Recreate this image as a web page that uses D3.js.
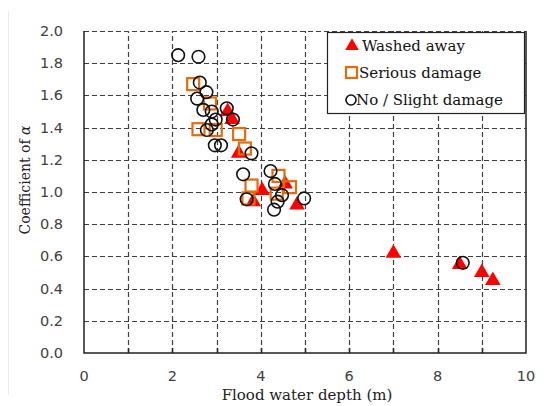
<!DOCTYPE html>
<html lang="en">
<head>
  <meta charset="UTF-8">
  <title>Coefficient of alpha vs flood water depth</title>
  <script src="https://d3js.org/d3.v7.min.js"></script>
  <style>
    body {
      margin: 0;
      background-color: #ffffff;
    }
    svg {
      display: block;
    }
    .tick-label {
      font-family: "DejaVu Sans", Arial, sans-serif;
      font-size: 14.5px;
      fill: #404040;
    }
    .title {
      font-family: "DejaVu Serif", "Times New Roman", serif;
      font-size: 15px;
      fill: #222;
    }
    .legend-text {
      font-family: "DejaVu Serif", "Times New Roman", serif;
      font-size: 15px;
      fill: #111;
    }
  </style>
</head>
<body>
  <div id="chart"></div>

  <script>
    // Series: [depth (m), coefficient]
    const washedAway = [
      [3.25, 1.50], [3.35, 1.45], [3.50, 1.24], [3.83, 0.94], [4.03, 1.01],
      [4.55, 1.05], [4.82, 0.92], [7.00, 0.62], [8.50, 0.55], [9.00, 0.50], [9.25, 0.45]
    ];
    const seriousDamage = [
      [2.47, 1.67], [2.85, 1.55], [2.59, 1.39], [2.98, 1.385], [3.51, 1.36],
      [3.64, 1.27], [3.72, 0.96], [3.79, 1.04], [4.36, 0.99], [4.40, 1.10], [4.66, 1.03]
    ];
    const slightDamage = [
      [2.13, 1.85], [2.59, 1.84], [2.62, 1.68], [2.77, 1.62], [2.56, 1.58],
      [2.70, 1.51], [2.89, 1.50], [3.23, 1.52], [3.37, 1.45], [2.98, 1.45],
      [2.89, 1.42], [2.78, 1.385], [2.96, 1.29], [3.10, 1.29], [3.79, 1.24],
      [3.60, 1.11], [4.22, 1.13], [4.32, 1.05], [3.68, 0.955], [4.48, 0.98],
      [4.38, 0.94], [4.30, 0.89], [4.98, 0.96], [8.57, 0.56]
    ];
    const xTicks = [0, 2, 4, 6, 8, 10];
    const xGrid = [1, 2, 3, 4, 5, 6, 7, 8, 9];
    const yTicks = [0, 0.2, 0.4, 0.6, 0.8, 1.0, 1.2, 1.4, 1.6, 1.8, 2.0];
    const legendLabels = ['Washed away', 'Serious damage', 'No / Slight damage'];

    const width = 547, height = 406;
    const margin = { top: 31, right: 21, bottom: 53, left: 84 };

    const svg = d3.select('#chart')
      .append('svg')
      .attr('width', width)
      .attr('height', height);

    // faint frame line on the left of the original image
    svg.append('line')
      .attr('x1', 8.5).attr('x2', 8.5)
      .attr('y1', 11).attr('y2', 395)
      .attr('stroke', '#ececec');

    const x = d3.scaleLinear().domain([0, 10]).range([margin.left, width - margin.right]);
    const y = d3.scaleLinear().domain([0, 2]).range([height - margin.bottom, margin.top]);

    const grid = svg.append('g')
      .attr('stroke', '#404040')
      .attr('stroke-width', 1.2)
      .attr('stroke-dasharray', '5,3');

    // horizontal dashed grid
    grid.selectAll('line.h')
      .data(yTicks.filter(d => d > 0))
      .enter()
      .append('line')
      .attr('class', 'h')
      .attr('x1', x(0)).attr('x2', x(10))
      .attr('y1', d => Math.round(y(d)) + 0.5)
      .attr('y2', d => Math.round(y(d)) + 0.5);

    // vertical dashed grid
    grid.selectAll('line.v')
      .data(xGrid)
      .enter()
      .append('line')
      .attr('class', 'v')
      .attr('x1', d => Math.round(x(d)) + 0.5)
      .attr('x2', d => Math.round(x(d)) + 0.5)
      .attr('y1', y(0)).attr('y2', y(2));

    // axes (left, bottom, right solid)
    const frame = svg.append('g').attr('stroke', '#222').attr('stroke-width', 1.5).attr('fill', 'none');
    frame.append('path')
      .attr('d', `M${x(0)},${y(2)} V${y(0)} H${x(10)} V${y(2)}`);

    // inward minor ticks on bottom axis
    frame.selectAll('line.t')
      .data(xGrid)
      .enter()
      .append('line')
      .attr('x1', d => Math.round(x(d)) + 0.5)
      .attr('x2', d => Math.round(x(d)) + 0.5)
      .attr('y1', y(0)).attr('y2', y(0) - 5);

    // tick labels
    svg.selectAll('text.xl')
      .data(xTicks)
      .enter()
      .append('text')
      .attr('class', 'tick-label')
      .attr('x', d => x(d))
      .attr('y', y(0) + 28)
      .attr('text-anchor', 'middle')
      .text(d => d);

    svg.selectAll('text.yl')
      .data(yTicks)
      .enter()
      .append('text')
      .attr('class', 'tick-label')
      .attr('x', 63)
      .attr('y', d => y(d) + 5)
      .attr('text-anchor', 'end')
      .text(d => d3.format('.1f')(d));

    // axis titles
    svg.append('text')
      .attr('class', 'title')
      .attr('x', 307)
      .attr('y', 400)
      .attr('text-anchor', 'middle')
      .text('Flood water depth (m)');

    const yTitle = svg.append('text')
      .attr('class', 'title')
      .style('font-size', '14px')
      .attr('transform', 'translate(30, 180) rotate(-90)')
      .attr('text-anchor', 'middle');
    yTitle.append('tspan').text('Coefficient of ');
    yTitle.append('tspan').attr('font-style', 'italic').text('α');

    const tri = d3.symbol().type(d3.symbolTriangle).size(105);
    const red = '#ff0000', orange = '#e46c0a';

    // markers
    svg.append('g')
      .selectAll('path')
      .data(washedAway)
      .enter()
      .append('path')
      .attr('d', tri)
      .attr('transform', d => `translate(${x(d[0])},${y(d[1])})`)
      .attr('fill', red);

    svg.append('g')
      .selectAll('rect')
      .data(seriousDamage)
      .enter()
      .append('rect')
      .attr('x', d => x(d[0]) - 6)
      .attr('y', d => y(d[1]) - 6)
      .attr('width', 12).attr('height', 12)
      .attr('fill', 'none')
      .attr('stroke', orange)
      .attr('stroke-width', 2.2);

    svg.append('g')
      .selectAll('circle')
      .data(slightDamage)
      .enter()
      .append('circle')
      .attr('cx', d => x(d[0]))
      .attr('cy', d => y(d[1]))
      .attr('r', 6.3)
      .attr('fill', 'none')
      .attr('stroke', '#111')
      .attr('stroke-width', 1.6);

    // legend
    const legend = svg.append('g');
    legend.append('rect')
      .attr('x', 327.5).attr('y', 32.5)
      .attr('width', 197).attr('height', 81)
      .attr('fill', '#ffffff')
      .attr('stroke', '#222')
      .attr('stroke-width', 1.2);

    const rowY = [46, 73, 100];
    const textX = [362, 359, 356];
    legend.append('path')
      .attr('d', d3.symbol().type(d3.symbolTriangle).size(80))
      .attr('transform', `translate(352, ${rowY[0]})`)
      .attr('fill', red);
    legend.append('rect')
      .attr('x', 346).attr('y', rowY[1] - 6)
      .attr('width', 11).attr('height', 11)
      .attr('fill', 'none')
      .attr('stroke', orange)
      .attr('stroke-width', 2.2);
    legend.append('circle')
      .attr('cx', 351).attr('cy', rowY[2])
      .attr('r', 5)
      .attr('fill', 'none')
      .attr('stroke', '#111')
      .attr('stroke-width', 1.6);

    legend.selectAll('text')
      .data(legendLabels)
      .enter()
      .append('text')
      .attr('class', 'legend-text')
      .attr('x', (d, i) => textX[i])
      .attr('y', (d, i) => rowY[i] + 5)
      .text(d => d);
  </script>
</body>
</html>
